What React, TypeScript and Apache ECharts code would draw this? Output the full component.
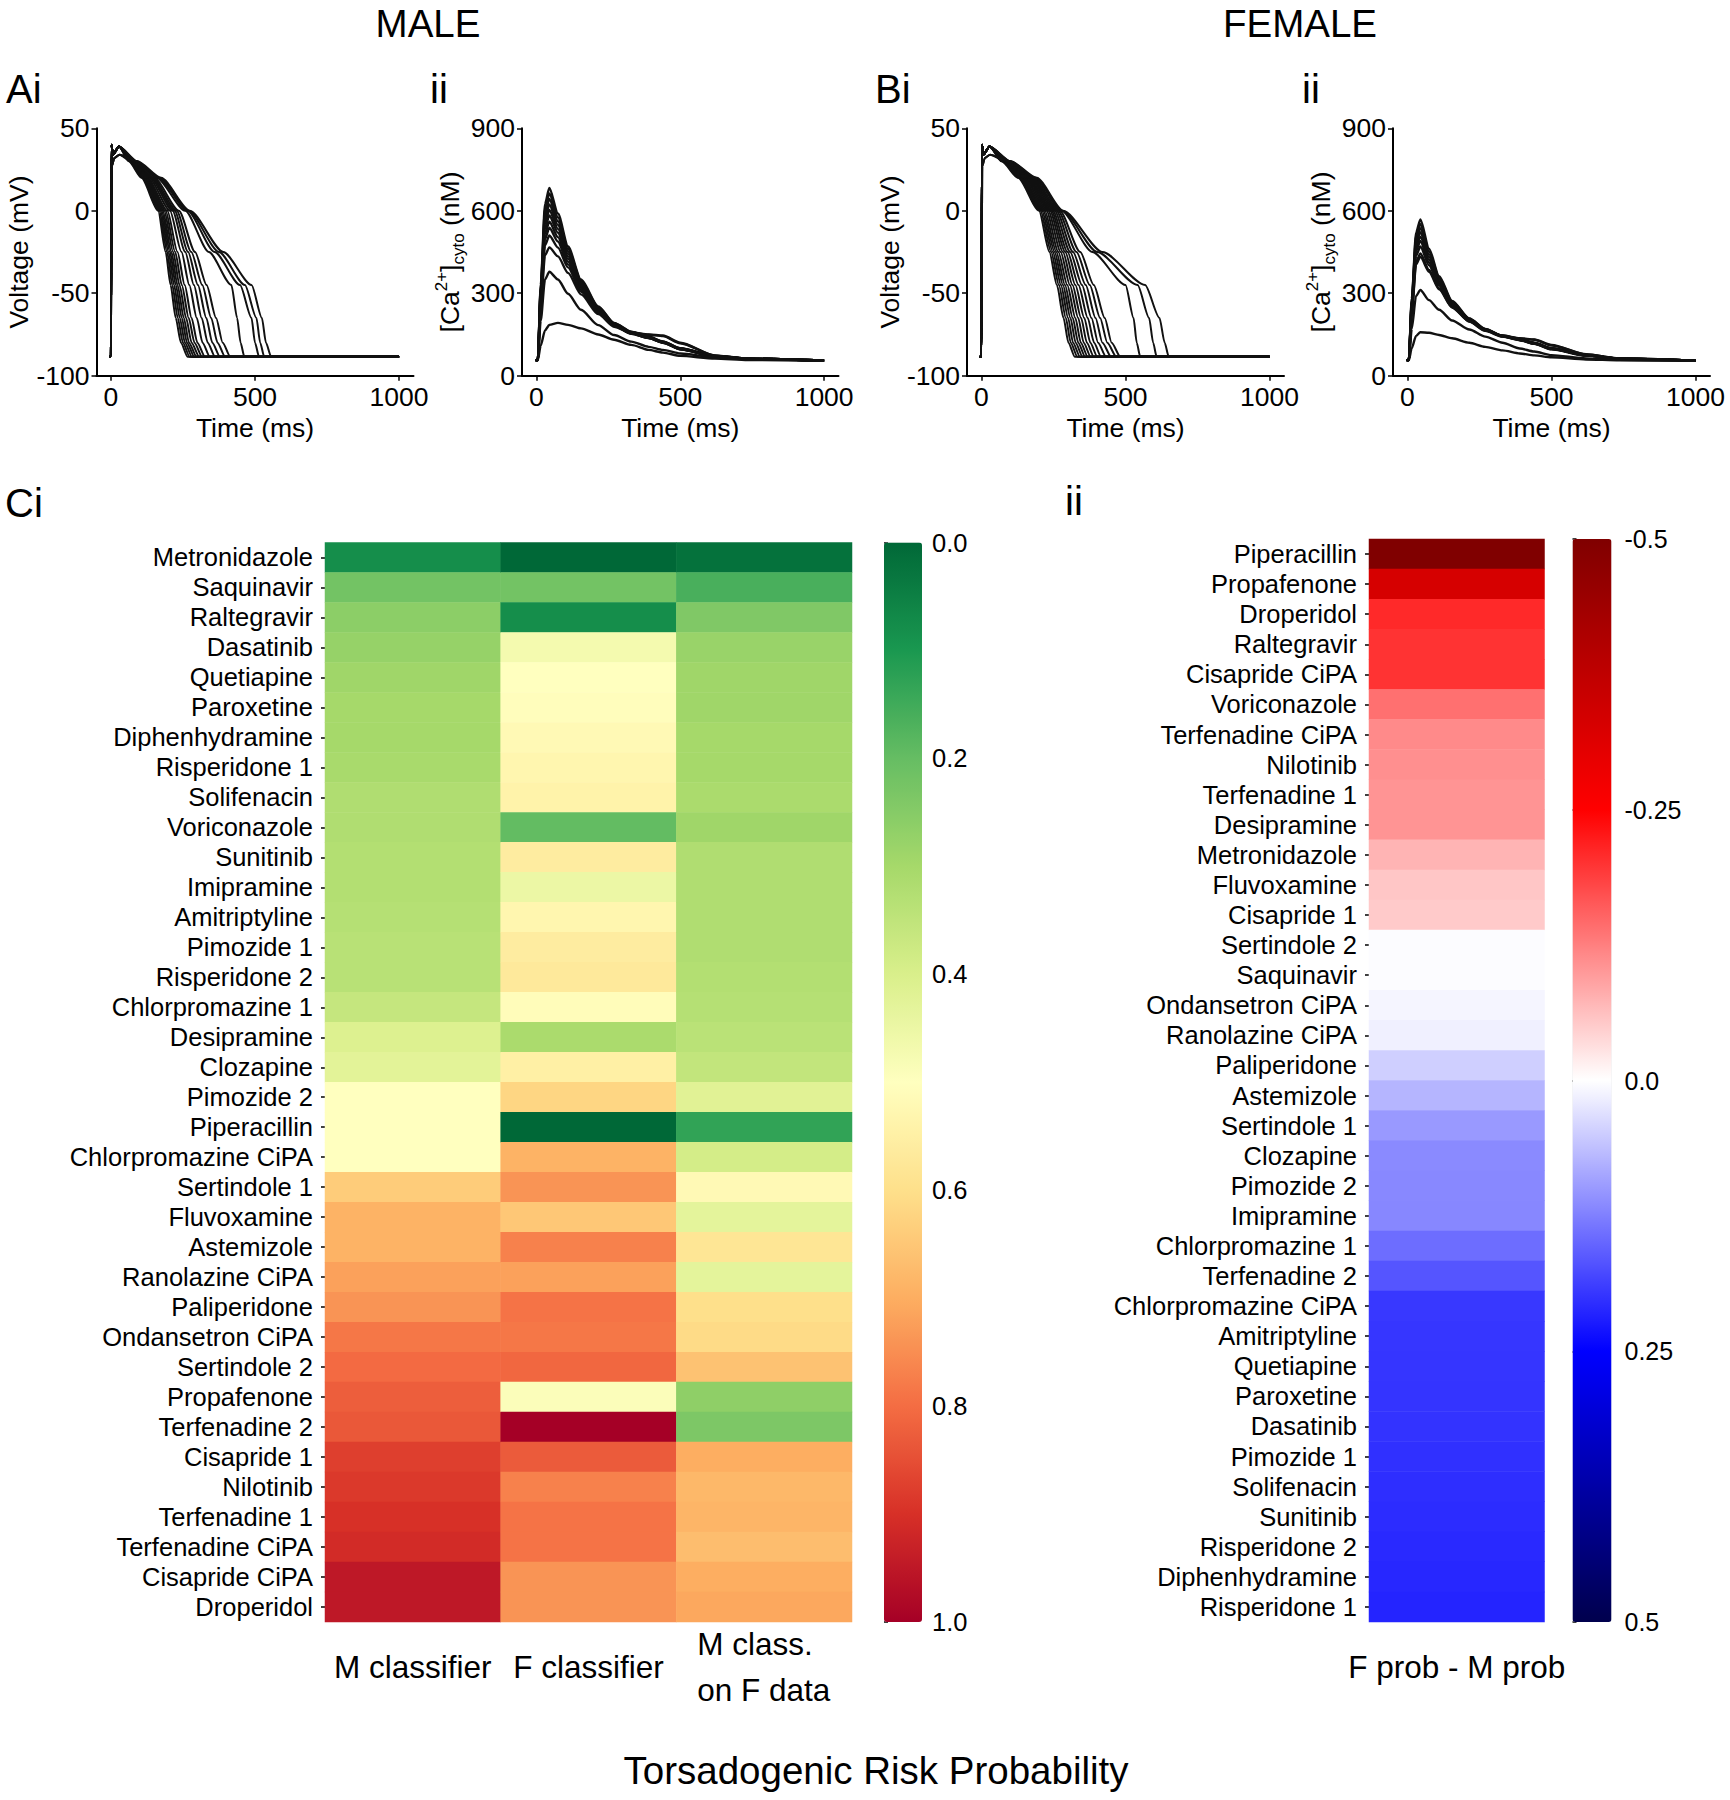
import React, { useEffect, useRef } from "react";
import * as echarts from "echarts";

const FONT = "'Liberation Sans', Arial, Helvetica, sans-serif";
const INK = "#000000";

// ---------------- Panel C data ----------------
const ciDrugs = [
  "Metronidazole", "Saquinavir", "Raltegravir", "Dasatinib", "Quetiapine", "Paroxetine",
  "Diphenhydramine", "Risperidone 1", "Solifenacin", "Voriconazole", "Sunitinib", "Imipramine",
  "Amitriptyline", "Pimozide 1", "Risperidone 2", "Chlorpromazine 1", "Desipramine", "Clozapine",
  "Pimozide 2", "Piperacillin", "Chlorpromazine CiPA", "Sertindole 1", "Fluvoxamine", "Astemizole",
  "Ranolazine CiPA", "Paliperidone", "Ondansetron CiPA", "Sertindole 2", "Propafenone", "Terfenadine 2",
  "Cisapride 1", "Nilotinib", "Terfenadine 1", "Terfenadine CiPA", "Cisapride CiPA", "Droperidol",
];
const ciColumns = ["M classifier", "F classifier", "M class.\non F data"];
const mClassifier = [
  0.08, 0.22, 0.26, 0.275, 0.29, 0.30, 0.30, 0.305, 0.32, 0.32, 0.325, 0.325,
  0.33, 0.335, 0.335, 0.36, 0.41, 0.425, 0.50, 0.50, 0.50, 0.64, 0.69, 0.69,
  0.72, 0.74, 0.785, 0.805, 0.825, 0.835, 0.875, 0.885, 0.90, 0.91, 0.95, 0.95,
];
const fClassifier = [
  0.0, 0.22, 0.08, 0.47, 0.50, 0.505, 0.52, 0.53, 0.54, 0.196, 0.56, 0.45,
  0.53, 0.56, 0.57, 0.51, 0.31, 0.55, 0.62, 0.0, 0.69, 0.74, 0.65, 0.77,
  0.72, 0.79, 0.785, 0.81, 0.49, 1.0, 0.83, 0.77, 0.79, 0.79, 0.74, 0.74,
];
const mClassOnFData = [
  0.02, 0.162, 0.24, 0.28, 0.29, 0.29, 0.30, 0.30, 0.31, 0.29, 0.32, 0.32,
  0.32, 0.32, 0.325, 0.33, 0.34, 0.355, 0.42, 0.13, 0.39, 0.52, 0.43, 0.58,
  0.43, 0.60, 0.61, 0.66, 0.264, 0.236, 0.70, 0.68, 0.685, 0.67, 0.70, 0.71,
];
const iiDrugs = [
  "Piperacillin", "Propafenone", "Droperidol", "Raltegravir", "Cisapride CiPA", "Voriconazole",
  "Terfenadine CiPA", "Nilotinib", "Terfenadine 1", "Desipramine", "Metronidazole", "Fluvoxamine",
  "Cisapride 1", "Sertindole 2", "Saquinavir", "Ondansetron CiPA", "Ranolazine CiPA", "Paliperidone",
  "Astemizole", "Sertindole 1", "Clozapine", "Pimozide 2", "Imipramine", "Chlorpromazine 1",
  "Terfenadine 2", "Chlorpromazine CiPA", "Amitriptyline", "Quetiapine", "Paroxetine", "Dasatinib",
  "Pimozide 1", "Solifenacin", "Sunitinib", "Risperidone 2", "Diphenhydramine", "Risperidone 1",
];
const fProbMinusMProb = [
  -0.5, -0.33, -0.21, -0.2, -0.2, -0.14, -0.115, -0.11, -0.105, -0.105, -0.074, -0.056,
  -0.052, 0.003, 0.003, 0.01, 0.015, 0.047, 0.073, 0.1, 0.115, 0.117, 0.118, 0.143,
  0.167, 0.195, 0.197, 0.198, 0.199, 0.2, 0.203, 0.205, 0.207, 0.21, 0.212, 0.215,
];
const ciColorbarTicks = [0, 1];
const iiColorbarTicks = [-0.5, 0.5];
const rdYlGnR = ["#006837", "#1a9850", "#66bd63", "#a6d96a", "#d9ef8b", "#ffffbf", "#fee08b", "#fdae61", "#f46d43", "#d73027", "#a50026"];
const seismicR = ["#800000", "#ff0000", "#ffffff", "#0000ff", "#00004d"];

// ---------------- Panel A/B traces ----------------
const timeTicks = [0, 500, 1000];
// times (ms) at which each AP reaches these voltages (mV)
const apLevels = [30, 20, 0, -25, -45, -65, -80, -88.5];
const apHeadSpike = [[-6, -88.5], [0, -88.5], [2, 40], [7, 34], [28, 39]];
const apHeadRound = [[-6, -88.5], [0, -88.5], [3, 27], [12, 32], [30, 34]];
const apRestEnd = [[1000, -88.5]];
const maleApTimes = [
  [62, 106, 164, 190, 207, 225, 243, 266],
  [64, 109, 168, 195, 213, 232, 250, 273],
  [66, 112, 172, 200, 219, 239, 257, 281],
  [67, 115, 176, 205, 225, 246, 264, 289],
  [68, 118, 180, 210, 231, 253, 271, 297],
  [70, 121, 185, 216, 238, 261, 280, 306],
  [72, 124, 190, 223, 246, 270, 290, 316],
  [74, 127, 196, 231, 256, 280, 300, 326],
  [76, 132, 205, 245, 272, 298, 318, 343],
  [78, 137, 214, 258, 288, 315, 336, 361],
  [80, 141, 221, 268, 302, 331, 352, 378],
  [82, 145, 228, 279, 317, 348, 370, 396],
  [84, 150, 236, 292, 332, 365, 388, 414],
  [86, 158, 258, 340, 418, 438, 450, 463],
  [88, 164, 266, 360, 448, 488, 500, 514],
  [90, 168, 270, 375, 465, 505, 518, 532],
  [92, 174, 274, 390, 488, 524, 538, 556],
];
const maleApRound = [4, 9, 15];
const femaleApTimes = [
  [70, 127, 200, 236, 262, 285, 302, 324],
  [72, 131, 205, 242, 269, 293, 310, 333],
  [74, 135, 210, 248, 276, 301, 318, 342],
  [76, 139, 215, 254, 283, 309, 327, 351],
  [78, 143, 220, 260, 290, 317, 336, 360],
  [80, 147, 226, 267, 298, 326, 345, 369],
  [82, 151, 232, 275, 307, 336, 355, 379],
  [84, 155, 238, 283, 316, 346, 366, 390],
  [86, 158, 243, 291, 326, 357, 378, 402],
  [88, 162, 248, 299, 337, 369, 391, 415],
  [90, 166, 254, 308, 349, 382, 405, 432],
  [92, 170, 260, 318, 362, 396, 420, 450],
  [94, 174, 266, 330, 376, 412, 437, 468],
  [96, 178, 272, 343, 390, 428, 452, 482],
  [98, 184, 278, 385, 500, 528, 539, 551],
  [100, 188, 281, 402, 542, 582, 596, 608],
  [102, 192, 284, 420, 568, 618, 636, 650],
];
const femaleApRound = [6, 13];

const caTimes = [-3, 5, 15, 30, 45, 75, 110, 155, 215, 270, 330, 390, 440, 500, 620, 735, 1000];
const maleCa = [
  [54, 58, 330, 625, 683, 590, 470, 350, 252, 192, 160, 142, 125, 100, 72, 62, 55],
  [54, 58, 322, 606, 663, 576, 461, 345, 249, 191, 159, 141, 124, 99, 72, 62, 55],
  [54, 58, 315, 588, 643, 562, 452, 340, 246, 189, 157, 140, 123, 99, 71, 62, 55],
  [54, 58, 307, 570, 623, 548, 443, 334, 243, 188, 156, 140, 122, 98, 71, 62, 55],
  [54, 58, 300, 553, 603, 534, 434, 329, 240, 186, 155, 139, 122, 97, 71, 61, 55],
  [54, 58, 292, 535, 583, 520, 425, 323, 237, 185, 154, 138, 121, 97, 70, 61, 55],
  [54, 58, 284, 516, 560, 504, 415, 318, 234, 183, 153, 137, 120, 96, 70, 61, 55],
  [54, 58, 276, 497, 538, 488, 405, 312, 231, 182, 152, 137, 120, 96, 70, 61, 55],
  [54, 58, 268, 474, 510, 466, 394, 306, 229, 181, 158, 150, 146, 120, 74, 62, 55],
  [54, 57, 250, 438, 467, 434, 374, 296, 224, 178, 156, 149, 144, 118, 73, 62, 55],
  [54, 57, 200, 350, 378, 350, 298, 240, 184, 148, 124, 105, 94, 81, 67, 60, 54],
  [54, 56, 110, 165, 185, 192, 185, 172, 150, 131, 112, 94, 84, 72, 62, 57, 54],
];
const femaleCa = [
  [54, 58, 280, 520, 568, 462, 362, 272, 208, 170, 146, 133, 120, 100, 75, 62, 55],
  [54, 58, 274, 507, 552, 452, 356, 269, 207, 169, 145, 132, 119, 99, 75, 62, 55],
  [54, 58, 268, 494, 537, 442, 350, 266, 205, 168, 144, 131, 118, 99, 74, 62, 55],
  [54, 58, 262, 481, 522, 432, 344, 263, 204, 167, 144, 131, 118, 98, 74, 62, 55],
  [54, 58, 256, 468, 506, 422, 338, 260, 202, 166, 143, 130, 117, 98, 74, 62, 55],
  [54, 58, 250, 454, 490, 412, 332, 257, 200, 165, 143, 130, 117, 97, 74, 62, 55],
  [54, 58, 242, 436, 470, 402, 328, 255, 200, 166, 146, 136, 132, 112, 78, 63, 55],
  [54, 58, 232, 414, 445, 385, 318, 250, 197, 163, 142, 129, 116, 96, 73, 61, 55],
  [54, 58, 226, 404, 433, 378, 314, 248, 197, 165, 145, 135, 131, 110, 77, 63, 55],
  [54, 57, 170, 290, 312, 275, 240, 201, 168, 142, 120, 99, 88, 75, 63, 58, 54],
  [54, 56, 100, 145, 158, 156, 148, 136, 120, 105, 92, 81, 74, 67, 59, 56, 54],
];

// ---------------- option building ----------------
const axisFont = 26.5;
const tickLine = { color: INK, width: 1.5 };
const spine = { show: true, onZero: false, lineStyle: { color: INK, width: 2 } };
const nameStyle = { fontSize: axisFont, color: INK, fontFamily: FONT };

const topGrids = [
  { left: 96.5, top: 128.3, width: 317, height: 247.4 },
  { left: 522, top: 128.3, width: 316.5, height: 247.4 },
  { left: 967, top: 128.3, width: 317, height: 247.4 },
  { left: 1393, top: 128.3, width: 317, height: 247.4 },
];

function timeAxis(gridIndex: number) {
  return {
    type: "value", gridIndex, min: -50, max: 1050,
    axisLine: spine,
    axisTick: { show: true, length: 5, inside: false, customValues: timeTicks, lineStyle: tickLine },
    axisLabel: { show: true, customValues: timeTicks, fontSize: axisFont, color: INK, fontFamily: FONT, margin: 8, formatter: (v: number) => String(v) },
    splitLine: { show: false },
    name: "Time (ms)", nameLocation: "middle", nameGap: 39, nameTextStyle: nameStyle,
  };
}
function voltageAxis(gridIndex: number) {
  return {
    type: "value", gridIndex, min: -100, max: 50, interval: 50,
    axisLine: spine,
    axisTick: { show: true, length: 5, lineStyle: tickLine },
    axisLabel: { fontSize: axisFont, color: INK, fontFamily: FONT, margin: 7, formatter: (v: number) => String(v) },
    splitLine: { show: false },
    name: "Voltage (mV)", nameLocation: "middle", nameGap: 60, nameRotate: 90, nameTextStyle: nameStyle,
  };
}
function calciumAxis(gridIndex: number) {
  return {
    type: "value", gridIndex, min: 0, max: 900, interval: 300,
    axisLine: spine,
    axisTick: { show: true, length: 5, lineStyle: tickLine },
    axisLabel: { fontSize: axisFont, color: INK, fontFamily: FONT, margin: 7, formatter: (v: number) => String(v) },
    splitLine: { show: false },
    name: "[Ca{sup|2+}]{sub|cyto} (nM)", nameLocation: "middle", nameGap: 50, nameRotate: 90,
    nameTextStyle: {
      ...nameStyle, lineHeight: 34,
      rich: {
        sup: { fontSize: 17, lineHeight: 17, verticalAlign: "top", fontFamily: FONT, color: INK },
        sub: { fontSize: 17, lineHeight: 17, verticalAlign: "bottom", fontFamily: FONT, color: INK },
      },
    },
  };
}

function lineSeries(data: number[][], grid: number, width: number) {
  return {
    type: "line", xAxisIndex: grid, yAxisIndex: grid, data,
    showSymbol: false, symbol: "none", smooth: 0.25, smoothMonotone: "x",
    lineStyle: { color: "#111111", width }, silent: true, z: 3,
  };
}
function apData(times: number[], round: boolean) {
  const head = round ? apHeadRound : apHeadSpike;
  return head.concat(times.map((t, i) => [t, apLevels[i]])).concat(apRestEnd);
}
function caData(values: number[]) {
  return caTimes.map((t, i) => [t, values[i]]);
}

const ciHeatData: number[][] = [];
[mClassifier, fClassifier, mClassOnFData].forEach((col, c) => col.forEach((v, r) => ciHeatData.push([c, r, v])));
const iiHeatData = fProbMinusMProb.map((v, r) => [0, r, v]);

const rowLabel = { fontSize: 25.5, color: INK, fontFamily: FONT, margin: 12, interval: 0 };
const colLabelRich = { l: { width: 134, align: "left", fontSize: 31.5, lineHeight: 46, fontFamily: FONT, color: INK } };

function panelText(text: string, x: number, y: number, size: number, align = "left") {
  return {
    type: "text", x, y, silent: true,
    style: { text, fontSize: size, fontFamily: FONT, fill: INK, textAlign: align, align, textVerticalAlign: "middle", verticalAlign: "middle" },
  };
}

const option: any = {
  animation: false,
  backgroundColor: "#ffffff",
  textStyle: { fontFamily: FONT },
  grid: [
    ...topGrids.map((g) => ({ ...g, containLabel: false, outerBoundsMode: "none" })),
    { left: 325, top: 542.5, width: 527, height: 1079.5, containLabel: false, outerBoundsMode: "none" },
    { left: 1369, top: 539, width: 175.5, height: 1083, containLabel: false, outerBoundsMode: "none" },
    { left: 884, top: 542.5, width: 38, height: 1079.5, containLabel: false, outerBoundsMode: "none" },
    { left: 1572.5, top: 539, width: 39, height: 1083, containLabel: false, outerBoundsMode: "none" },
  ],
  xAxis: [
    timeAxis(0), timeAxis(1), timeAxis(2), timeAxis(3),
    {
      type: "category", gridIndex: 4, data: ciColumns,
      axisLine: { show: false }, axisTick: { show: false }, splitLine: { show: false },
      axisLabel: {
        interval: 0, fontSize: 31.5, lineHeight: 46, color: INK, fontFamily: FONT, margin: 45, verticalAlign: "middle",
        formatter: (v: string) => (v.indexOf("\n") >= 0 ? v.split("\n").map((s) => `{l|${s}}`).join("\n") : v),
        rich: colLabelRich,
      },
    },
    {
      type: "category", gridIndex: 5, data: ["F prob - M prob"],
      axisLine: { show: false }, axisTick: { show: false }, splitLine: { show: false },
      axisLabel: { interval: 0, fontSize: 31.5, color: INK, fontFamily: FONT, margin: 45, verticalAlign: "middle" },
    },
    { type: "value", gridIndex: 6, show: false, min: 0, max: 1 },
    { type: "value", gridIndex: 7, show: false, min: 0, max: 1 },
  ],
  yAxis: [
    voltageAxis(0), calciumAxis(1), voltageAxis(2), calciumAxis(3),
    {
      type: "category", gridIndex: 4, data: ciDrugs, inverse: true,
      axisLine: { show: false }, splitLine: { show: false },
      axisTick: { show: true, length: 4, alignWithLabel: true, interval: 0, lineStyle: tickLine },
      axisLabel: rowLabel,
    },
    {
      type: "category", gridIndex: 5, data: iiDrugs, inverse: true,
      axisLine: { show: false }, splitLine: { show: false },
      axisTick: { show: true, length: 4, alignWithLabel: true, interval: 0, lineStyle: tickLine },
      axisLabel: rowLabel,
    },
    {
      type: "value", gridIndex: 6, min: ciColorbarTicks[0], max: ciColorbarTicks[1], interval: 0.2, inverse: true, position: "right",
      axisLine: { show: false }, splitLine: { show: false },
      axisTick: { show: true, length: 4, lineStyle: tickLine },
      axisLabel: { fontSize: 25.5, color: INK, fontFamily: FONT, margin: 10, formatter: (v: number) => v.toFixed(1) },
    },
    {
      type: "value", gridIndex: 7, min: iiColorbarTicks[0], max: iiColorbarTicks[1], interval: 0.25, inverse: true, position: "right",
      axisLine: { show: false }, splitLine: { show: false },
      axisTick: { show: true, length: 4, lineStyle: tickLine },
      axisLabel: { fontSize: 25, color: INK, fontFamily: FONT, margin: 13, formatter: (v: number) => (v === 0 ? "0.0" : String(v)) },
    },
  ],
  visualMap: [
    {
      type: "continuous", seriesIndex: 0, dimension: 2, min: 0, max: 1, inRange: { color: rdYlGnR },
      orient: "vertical", inverse: true, left: 884, top: 542.5, itemWidth: 38, itemHeight: 1079.5,
      calculable: false, padding: 0, hoverLink: false, textStyle: { fontSize: 1, color: "rgba(0,0,0,0)" },
    },
    {
      type: "continuous", seriesIndex: 1, dimension: 2, min: -0.5, max: 0.5, inRange: { color: seismicR },
      orient: "vertical", inverse: true, left: 1572.5, top: 539, itemWidth: 39, itemHeight: 1083,
      calculable: false, padding: 0, hoverLink: false, textStyle: { fontSize: 1, color: "rgba(0,0,0,0)" },
    },
  ],
  series: [
    { type: "heatmap", xAxisIndex: 4, yAxisIndex: 4, data: ciHeatData, silent: true, emphasis: { disabled: true } },
    { type: "heatmap", xAxisIndex: 5, yAxisIndex: 5, data: iiHeatData, silent: true, emphasis: { disabled: true } },
    ...maleApTimes.map((t, i) => lineSeries(apData(t, maleApRound.indexOf(i) >= 0), 0, 2)),
    ...maleCa.map((v) => lineSeries(caData(v), 1, 2.4)),
    ...femaleApTimes.map((t, i) => lineSeries(apData(t, femaleApRound.indexOf(i) >= 0), 2, 2)),
    ...femaleCa.map((v) => lineSeries(caData(v), 3, 2.4)),
  ],
  graphic: {
    elements: [
      panelText("MALE", 428, 23, 38.5, "center"),
      panelText("FEMALE", 1300, 23, 38.5, "center"),
      panelText("Ai", 6, 88.5, 40),
      panelText("ii", 430, 88.5, 40),
      panelText("Bi", 875, 88.5, 40),
      panelText("ii", 1302, 88.5, 40),
      panelText("Ci", 5, 503, 40),
      panelText("ii", 1065, 501, 40),
      panelText("Torsadogenic Risk Probability", 876, 1770, 38.5, "center"),
    ],
  },
};

export default function App() {
  const ref = useRef<HTMLDivElement>(null);
  useEffect(() => {
    document.body.style.margin = "0";
    const chart = echarts.init(ref.current as HTMLDivElement, null, { renderer: "svg" });
    chart.setOption(option);
    return () => chart.dispose();
  }, []);
  return <div ref={ref} style={{ width: 1730, height: 1800, background: "#ffffff" }} />;
}
